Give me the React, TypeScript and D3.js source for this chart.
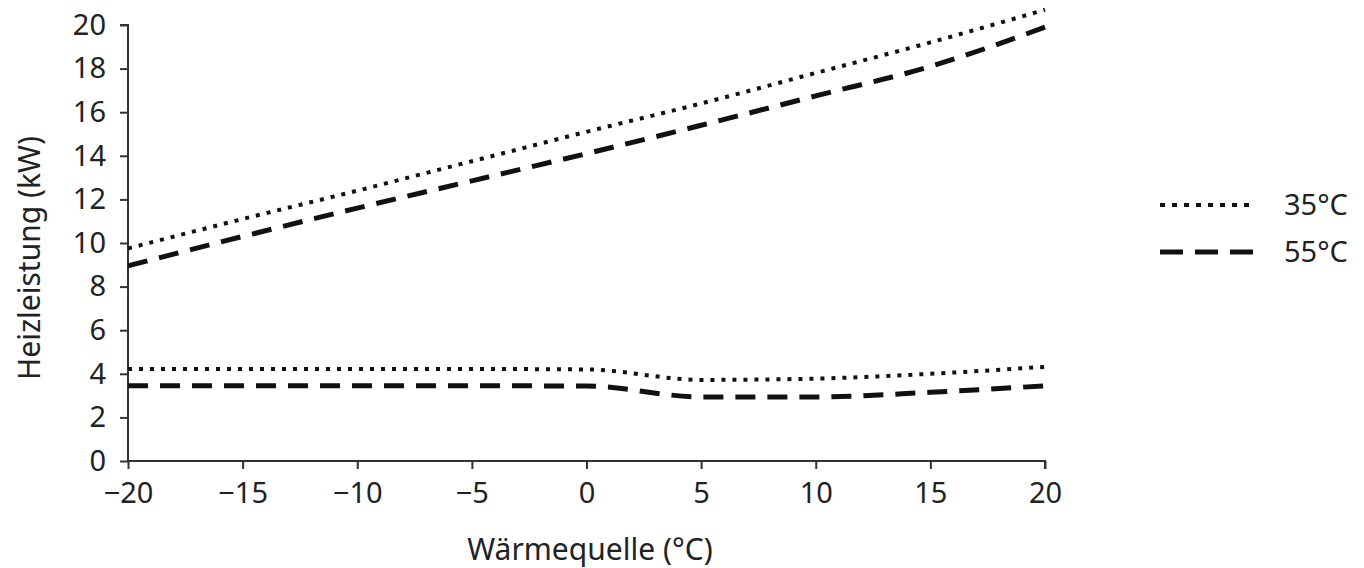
import { useEffect, useRef } from 'react';
import * as d3 from 'd3';

// Wärmequelle (°C)
const temps = [-20, -15, -10, -5, 0, 5, 10, 15, 20];
// Heizleistung (kW), max and min curves per flow temperature
const max35 = [9.75, 11.1, 12.4, 13.75, 15.1, 16.4, 17.8, 19.2, 20.7];
const max55 = [8.95, 10.3, 11.6, 12.85, 14.1, 15.4, 16.75, 18.1, 19.9];
const min35 = [4.22, 4.22, 4.22, 4.22, 4.2, 3.72, 3.78, 4.0, 4.32];
const min55 = [3.45, 3.45, 3.45, 3.45, 3.44, 2.94, 2.94, 3.15, 3.45];

const xTicks = [-20, -15, -10, -5, 0, 5, 10, 15, 20];
const yTicks = [0, 2, 4, 6, 8, 10, 12, 14, 16, 18, 20];

const series = [
  { label: '35°C', dash: '4,7', width: 4, values: [max35, min35] },
  { label: '55°C', dash: '20,12', width: 5, values: [max55, min55] },
];

const fmt = (v: number) => (v < 0 ? '\u2212' + Math.abs(v) : String(v));

export default function App() {
  const svgRef = useRef<SVGSVGElement>(null);

  useEffect(() => {
    const svg = d3.select(svgRef.current);
    svg.selectAll('*').remove();

    const left = 128, right = 1045, top = 25, bottom = 461;
    const x = d3.scaleLinear().domain([-20, 20]).range([left, right]);
    const y = d3.scaleLinear().domain([0, 20]).range([bottom, top]);
    const font = '"Noto Sans", "Open Sans", sans-serif';
    const axisColor = '#333';
    const textColor = '#222';

    // y axis
    const yAxis = svg.append('g')
      .attr('transform', `translate(${left},0)`)
      .call(d3.axisLeft(y).tickValues(yTicks).tickSize(8).tickSizeOuter(8).tickPadding(14));
    // x axis
    const xAxis = svg.append('g')
      .attr('transform', `translate(0,${bottom})`)
      .call(d3.axisBottom(x).tickValues(xTicks).tickFormat(d => fmt(d as number)).tickSize(8).tickSizeOuter(8).tickPadding(13));

    [yAxis, xAxis].forEach(a => {
      a.select('.domain').attr('stroke', axisColor).attr('stroke-width', 2);
      a.selectAll('.tick line').attr('stroke', axisColor).attr('stroke-width', 2);
      a.selectAll('.tick text')
        .attr('fill', textColor)
        .style('font-family', font)
        .style('font-size', '29px');
    });
    yAxis.select('.domain').attr('d', `M-8,${top}H0V${bottom}`);
    xAxis.select('.domain').attr('d', `M${left},0H${right}V8`);

    // lines
    const line = d3.line<number>()
      .x((_, i) => x(temps[i]))
      .y(d => y(d))
      .curve(d3.curveMonotoneX);

    series.forEach(s => {
      s.values.forEach(vals => {
        svg.append('path')
          .attr('d', line(vals))
          .attr('fill', 'none')
          .attr('stroke', '#111')
          .attr('stroke-width', s.width)
          .attr('stroke-dasharray', s.dash);
      });
    });

    // legend
    const legend = svg.append('g').attr('transform', 'translate(1160,205)');
    series.forEach((s, i) => {
      const g = legend.append('g').attr('transform', `translate(0,${i * 47})`);
      g.append('line')
        .attr('x1', 0).attr('x2', 93)
        .attr('stroke', '#111')
        .attr('stroke-width', s.width)
        .attr('stroke-dasharray', i === 0 ? '5,7' : '23,12');
      g.append('text')
        .attr('x', 124).attr('dy', '0.35em')
        .attr('fill', textColor)
        .style('font-family', font)
        .style('font-size', '29px')
        .text(s.label);
    });

    // axis titles
    svg.append('text')
      .attr('transform', `translate(40,258) rotate(-90)`)
      .attr('text-anchor', 'middle')
      .attr('fill', textColor)
      .style('font-family', font)
      .style('font-size', '30px')
      .text('Heizleistung (kW)');

    svg.append('text')
      .attr('x', 590).attr('y', 560)
      .attr('text-anchor', 'middle')
      .attr('fill', textColor)
      .style('font-family', font)
      .style('font-size', '30px')
      .text('Wärmequelle (°C)');
  }, []);

  return (
    <svg
      ref={svgRef}
      width={1364}
      height={568}
      style={{ position: 'absolute', left: 0, top: 0, background: '#fff' }}
    />
  );
}
